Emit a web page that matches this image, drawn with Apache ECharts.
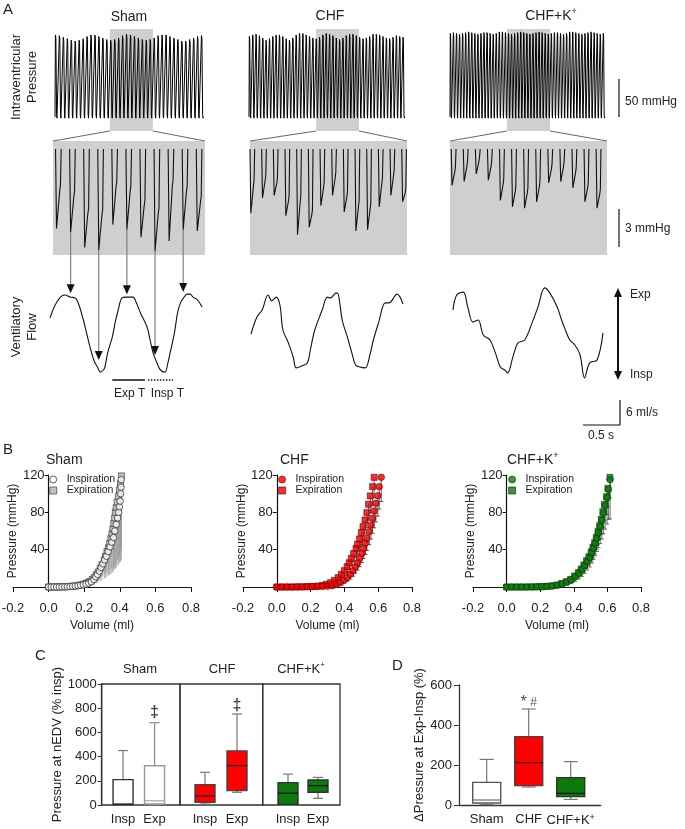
<!DOCTYPE html>
<html>
<head>
<meta charset="utf-8">
<script src="https://cdn.jsdelivr.net/npm/echarts/dist/echarts.min.js"></script>
<style>html,body{margin:0;padding:0;background:#fff}#main{width:685px;height:829px}</style>
</head>
<body>
<div id="main"></div>
<script>
// ---------- A: intraventricular pressure, peak of each beat (mmHg)
var topPeakSham = [108,107,105,103,101,100,101,103,106,108,108,106,104,102,101,102,104,107,109,108,106,104,102,101,102,104,107,108,108,106,104,102,100,100,102,104,106,107];
var topPeakChf = [106,108,109,107,104,101,103,106,108,108,106,103,101,104,108,110,110,108,106,104,103,105,108,110,109,107,104,102,104,107,109,109,107,105,103,104,106,109,109,108,106,104,103,105,107,106,105];
var topPeakChfK = [110,111,110,109,110,111,112,111,110,109,110,111,111,110,109,110,112,112,111,110,109,110,111,112,111,110,109,110,111,112,111,110,109,110,111,111,110,109,110,112,112,111,110,109,110,111,112,111,110,109,110];
// beats enlarged in the middle row (beat index window)
var zoomStart = [13.9, 20.1, 18.6];
var zoomEnd = [24.8, 32.9, 32.7];

// ---------- A: enlarged diastolic pressure (mmHg): trough and notch of each beat
var midTroughSham = [2.1,1.8,0.6,0.4,2.4,2.0,1.4,0.3,1.1,2.0,1.9];
var midKinkSham = [5.1,4.6,3.3,3.2,5.4,5.0,3.9,3.3,5.5,5.0,4.2];
var midTroughChf = [3.3,4.5,4.7,3.1,1.6,2.2,3.9,4.7,3.4,1.9,2.0,3.8,4.7,4.2];
var midKinkChf = [5.5,5.9,5.7,4.3,4.2,3.2,5.3,6.1,4.6,3.9,3.7,5.7,6.3,4.9];
var midTroughChfK = [5.5,5.8,6.4,5.9,4.3,3.8,3.7,4.2,5.7,5.8,5.3,4.2,3.7];
var midKinkChfK = [6.6,7.0,7.4,7.0,5.6,5.0,4.9,5.4,6.8,7.0,6.5,5.3,4.8];
var midPhase = [0.18, 0.0, 0.1];
var midSpan = [10.8, 13.45, 13.0];

// ---------- A: ventilatory flow (time s, flow ml/s)
var flowShamT = [0,.07,.14,.20,.27,.34,.39,.45,.50,.54,.59,.64,.68,.72,.74,.78,.84,.88,.92,.97,1.03,1.12,1.16,1.22,1.31,1.35,1.39,1.45,1.49,1.55,1.59,1.62,1.68,1.72,1.76,1.80,1.85,1.89,1.93,1.99,2.05];
var flowShamV = [4.1,7.2,9.1,9.6,9.1,8.9,7.2,3.6,0,-2.9,-6.0,-7.7,-8.9,-8.4,-7.7,-4.1,-0.5,3.1,6.0,8.9,9.1,9.1,7.9,5.3,1.9,-1.2,-4.3,-7.0,-8.4,-8.9,-6.7,-4.3,0.7,5.3,7.7,8.9,9.8,9.8,9.1,8.4,6.7];
var flowChfT = [0,.08,.15,.23,.28,.34,.39,.43,.50,.57,.61,.69,.76,.80,.86,.96,1.03,1.07,1.15,1.18,1.23,1.30,1.36,1.41,1.47,1.54,1.61,1.65,1.72,1.81,1.86,1.97,2.05];
var flowChfV = [0.2,4.3,6.0,9.6,8.2,9.1,7.2,1.2,-1.7,-5.3,-7.9,-7.4,-6.7,-3.6,1.2,6.0,9.1,8.9,10.1,9.6,3.6,-0.5,-4.3,-7.2,-7.7,-7.9,-4.3,-1.2,2.9,7.7,7.7,9.8,7.4];
var flowChfKT = [0,.05,.14,.20,.27,.34,.41,.50,.57,.64,.70,.74,.81,.88,.97,1.07,1.15,1.24,1.31,1.41,1.47,1.51,1.58,1.65,1.72,1.78,1.85,1.95,2.03];
var flowChfKV = [6.0,9.6,10.3,6.7,3.1,3.6,0,-1.2,-4.1,-7.7,-8.4,-9.1,-5.3,-1.9,-1.2,2.9,6.7,11.3,10.1,6.7,3.6,1.7,-1.2,-2.4,-4.8,-10.3,-6.7,-6.0,0.5];
// Sham beats linked to the flow curve, and flow at the arrow tips
var arrowBeatSham = [1, 3, 5, 7, 9];
var arrowFlowSham = [10.0, -6.0, 9.8, -4.8, 10.3];
var expTime = [0.84, 1.28];
var inspTime = [1.32, 1.66];

// ---------- B: pressure-volume relations (volume ml, pressure mmHg, SEM mmHg)
var shamInspVol = [0,0.015,0.03,0.045,0.06,0.075,0.09,0.105,0.12,0.135,0.15,0.165,0.18,0.195,0.21,0.225,0.24,0.255,0.265,0.275,0.285,0.295,0.305,0.315,0.325,0.335,0.345,0.355,0.365,0.372,0.38,0.388,0.394,0.398,0.402,0.405,0.407,0.408];
var shamInspP = [0,0,0,0,0,0.1,0.2,0.3,0.5,0.7,1,1.3,1.8,2.4,3,4,5.5,8,11,13.5,17,21,25,29,33,38,43,48,53,60,67,74,80,86,92,100,107,115];
var shamInspErr = [0,0,0,0,0,0,0,0,0,0,0.5,0.5,1,1,1.5,2,3,4,5,7,9,11,13,15,18,21,24,28,32,36,40,45,50,54,58,62,66,70];
var shamExpVol = [0,0.015,0.03,0.045,0.06,0.075,0.09,0.105,0.12,0.135,0.15,0.165,0.18,0.195,0.21,0.222,0.233,0.245,0.256,0.267,0.278,0.29,0.3,0.313,0.32,0.328,0.336,0.343,0.35,0.356,0.361,0.366,0.371,0.375,0.38,0.385,0.392,0.398,0.404,0.409];
var shamExpP = [0,0,0,0,0.1,0.2,0.3,0.4,0.6,0.9,1.2,1.7,2.3,3,4,5,6,8,10,13,16,20,24,29,33,38,42,47,52,57,62,68,74,80,85,91,97,104,111,119];
var shamExpErr = [0,0,0,0,0,0,0,0,0.5,0.5,1,1,1.5,2,3,4,5,6,7,9,11,14,17,20,23,27,30,34,38,42,46,50,55,60,64,68,73,78,84,90];

var chfInspVol = [0,0.03,0.06,0.09,0.12,0.15,0.18,0.21,0.24,0.27,0.30,0.328,0.353,0.376,0.396,0.416,0.435,0.451,0.465,0.478,0.49,0.504,0.514,0.524,0.533,0.547,0.557,0.567,0.576,0.586,0.598,0.606,0.618];
var chfInspP = [0,0,0,0,0.1,0.1,0.2,0.3,0.4,0.6,0.9,1.4,2.9,4.6,7.1,10,13.6,17.5,21.8,26,30.7,36.1,41.4,46.8,52.1,59.3,66.4,73.6,81.4,89.6,97.9,107.5,117.5];
var chfInspErr = [0,0,0,0,0,0,0,0,0,0,0.5,1,1.5,2,3,4,5,6,7,8,9,10,11,12,13,14,15,16,18,20,22,24,26];
var chfExpVol = [0,0.03,0.06,0.09,0.12,0.15,0.18,0.21,0.24,0.27,0.294,0.318,0.341,0.363,0.382,0.4,0.416,0.429,0.441,0.455,0.469,0.478,0.49,0.5,0.51,0.522,0.533,0.543,0.553,0.567,0.576];
var chfExpP = [0,0,0,0,0.1,0.2,0.4,0.6,1,1.8,2.9,4.6,7.1,10,13.6,17.5,21.8,26,30.7,36,41.4,46,51.4,58.2,64.6,71.8,79.6,88.6,97.6,107.5,117.5];
var chfExpErr = [0,0,0,0,0,0,0,0,0,0,1,1.5,2,3,4,5,6,7,8,9,10,11,12,13,14,15,16,17,18,20,22];

var chfkInspVol = [0,0.03,0.06,0.09,0.12,0.15,0.18,0.21,0.24,0.27,0.30,0.33,0.358,0.384,0.408,0.43,0.448,0.464,0.48,0.494,0.507,0.517,0.527,0.537,0.547,0.557,0.567,0.576,0.586,0.598,0.606,0.616];
var chfkInspP = [0,0,0,0,0,0.1,0.2,0.3,0.6,1,1.8,3.2,5.2,7.6,11,14.6,18.4,22.6,27.2,31.5,36.6,41.5,46.5,52,58,64.5,71.5,79,87,95.5,104.5,115];
var chfkInspErr = [0,0,0,0,0,0,0,0,0,0,1,2,3,4,5,6,7,8,9,10,11,12,13,14,16,18,20,22,25,28,32,42];
var chfkExpVol = [0,0.03,0.06,0.09,0.12,0.15,0.18,0.21,0.24,0.27,0.298,0.327,0.355,0.381,0.405,0.427,0.444,0.46,0.476,0.49,0.504,0.514,0.524,0.534,0.544,0.554,0.564,0.573,0.583,0.595,0.603,0.615];
var chfkExpP = [0,0,0,0,0,0.1,0.2,0.4,0.7,1.2,2.1,3.6,5.7,8.2,11.8,15.4,19.3,23.6,28.2,32.5,37.8,42.5,47.5,53.2,59.3,65.7,72.9,80.7,88.6,96.8,105.7,117.5];
var chfkExpErr = [0,0,0,0,0,0,0,0,0,0,1,1.5,2,3,4,5,6,7,8,9,10,11,12,13,14,15,16,17,18,19,20,22];

// ---------- C: pressure at nEDV (% insp), [min, Q1, median, Q3, max]
var phaseCats = ['Insp', 'Exp'];
var boxSham = [[0, 3, 8, 210, 450], [3, 8, 35, 325, 680]];
var boxChf = [[8, 22, 75, 168, 270], [105, 119, 326, 447, 752]];
var boxChfK = [[0, 5, 97, 185, 255], [55, 105, 160, 207, 228]];
var daggerAt = [null, 760];      // Sham Exp
var daggerAtChf = [null, 825];   // CHF Exp

// ---------- D: delta pressure at Exp-Insp (%)
var groupCats = ['Sham', 'CHF', 'CHF+K+'];
var boxDelta = [[2, 10, 25, 113, 228], [90, 97, 212, 342, 480], [28, 42, 58, 137, 217]];
var starAt = [null, 510, null];

// ---------------------------------------------------------------
var FONT = "'Liberation Sans', Arial, Helvetica, sans-serif";
var GRAY = '#cfcfcf';
var INK = '#222';
var MID_TOP = 8.37;

var grid = [], xAxis = [], yAxis = [], series = [];
function addGrid(g, xa, ya) {
  g.outerBoundsMode = 'none';
  grid.push(g);
  var i = grid.length - 1;
  xa.gridIndex = i; ya.gridIndex = i;
  xAxis.push(xa); yAxis.push(ya);
  return i;
}
function hid(min, max) { return {type: 'value', show: false, min: min, max: max}; }
function zip(a, b) { return a.map(function (v, i) { return [v, b[i]]; }); }

function topTrace(peaks) {
  var pts = [];
  peaks.forEach(function (pk, i) {
    pts.push([i, 0], [i + 0.1, pk], [i + 0.22, pk - 4], [i + 0.4, 3], [i + 0.5, -1.5], [i + 0.6, 0]);
  });
  return pts;
}
function midTrace(phase, troughs, kinks) {
  var pts = [];
  troughs.forEach(function (tr, i) {
    var t = phase + i;
    pts.push([t, MID_TOP], [t + 0.07, tr], [t + 0.3, kinks[i]], [t + 0.35, kinks[i] + 0.4], [t + 0.4, MID_TOP], [t + 0.41, '-']);
  });
  return pts;
}

// ---- panel A grids
var topPeaks = [topPeakSham, topPeakChf, topPeakChfK];
var topPos = [[55, 150], [249, 157], [450, 156]];
var TOPG = [], MIDG = [], FLOWG = [];
topPos.forEach(function (p, k) {
  var g = addGrid({left: p[0], width: p[1], top: 29, height: 102}, hid(0, topPeaks[k].length), hid(-18.4, 115.8));
  TOPG.push(g);
  series.push({type: 'line', xAxisIndex: g, yAxisIndex: g, data: [], z: 1, silent: true,
    markArea: {silent: true, itemStyle: {color: GRAY}, data: [[{xAxis: zoomStart[k]}, {xAxis: zoomEnd[k]}]]}});
  series.push({type: 'line', xAxisIndex: g, yAxisIndex: g, z: 3, symbol: 'none', silent: true,
    data: topTrace(topPeaks[k]), lineStyle: {color: '#000', width: 1}});
});

var midTroughs = [midTroughSham, midTroughChf, midTroughChfK];
var midKinks = [midKinkSham, midKinkChf, midKinkChfK];
var midPos = [[53, 152], [250, 157], [450, 157]];
midPos.forEach(function (p, k) {
  var g = addGrid({left: p[0], width: p[1], top: 141, height: 114, show: true, backgroundColor: GRAY, borderWidth: 0},
    hid(0, midSpan[k]), hid(0, 9.0));
  MIDG.push(g);
  series.push({type: 'line', xAxisIndex: g, yAxisIndex: g, symbol: 'none', silent: true, connectNulls: false,
    data: midTrace(midPhase[k], midTroughs[k], midKinks[k]), lineStyle: {color: '#111', width: 1.1}});
});

var flows = [zip(flowShamT, flowShamV), zip(flowChfT, flowChfV), zip(flowChfKT, flowChfKV)];
var flowPos = [[50, 152], [251, 152], [453, 150]];
flowPos.forEach(function (p, k) {
  var g = addGrid({left: p[0], width: p[1], top: 285, height: 95}, hid(0, flows[k][flows[k].length - 1][0]), hid(-10.8, 12));
  FLOWG.push(g);
  series.push({type: 'line', xAxisIndex: g, yAxisIndex: g, symbol: 'none', silent: true, smooth: 0.35,
    data: flows[k], lineStyle: {color: '#111', width: 1.1}});
});

// ---- panel B
function errRender(color, cap) {
  return function (params, api) {
    var e = api.value(2);
    if (!e) return null;
    var p0 = api.coord([api.value(0), api.value(1)]);
    var p1 = api.coord([api.value(0), api.value(1) - e]);
    var kids = [{type: 'line', shape: {x1: p0[0], y1: p0[1], x2: p1[0], y2: p1[1]}, style: {stroke: color, lineWidth: 0.8}}];
    if (cap) kids.push({type: 'line', shape: {x1: p1[0] - cap, y1: p1[1], x2: p1[0] + cap, y2: p1[1]}, style: {stroke: color, lineWidth: 0.8}});
    return {type: 'group', children: kids};
  };
}
var bSets = [
  {pos: [13, 178], gap: 30, legendLeft: 49.2,
   insp: [shamInspVol, shamInspP, shamInspErr], exp: [shamExpVol, shamExpP, shamExpErr],
   inspStyle: {color: '#ffffff', borderColor: '#333', borderWidth: 1},
   expStyle: {color: '#b3b3b3', borderColor: '#555', borderWidth: 1},
   err: ['#9a9a9a', 0]},
  {pos: [243, 169], gap: 28, legendLeft: 278.2,
   insp: [chfInspVol, chfInspP, chfInspErr], exp: [chfExpVol, chfExpP, chfExpErr],
   inspStyle: {color: '#ee0000', borderColor: '#6e0000', borderWidth: 0.8},
   expStyle: {color: '#ee0000', borderColor: '#6e0000', borderWidth: 0.8},
   err: ['#333', 2]},
  {pos: [473, 168], gap: 29, legendLeft: 508.2,
   insp: [chfkInspVol, chfkInspP, chfkInspErr], exp: [chfkExpVol, chfkExpP, chfkExpErr],
   inspStyle: {color: '#0c7a0c', borderColor: '#053805', borderWidth: 0.8},
   expStyle: {color: '#0c7a0c', borderColor: '#053805', borderWidth: 0.8},
   err: ['#444', 2]}
];
var legends = [];
bSets.forEach(function (s, k) {
  var g = addGrid({left: s.pos[0], width: s.pos[1], top: 475, height: 112},
    {type: 'value', min: -0.2, max: 0.8, interval: 0.2,
     name: 'Volume (ml)', nameLocation: 'middle', nameGap: 33, nameTextStyle: {fontSize: 12, color: INK},
     axisLine: {onZero: false, lineStyle: {color: '#111', width: 1.2}}, axisTick: {length: 5, lineStyle: {color: '#111'}},
     axisLabel: {fontSize: 13, color: INK, margin: 15, formatter: function (v) { return v.toFixed(1); }},
     splitLine: {show: false}},
    {type: 'value', min: 0, max: 120, interval: 40,
     // the pressure axis stands at volume 0, one fifth of the way along the volume axis
     offset: -s.pos[1] * 0.2,
     name: 'Pressure (mmHg)', nameLocation: 'middle', nameRotate: 90, nameGap: s.gap, nameTextStyle: {fontSize: 12, color: INK},
     axisLine: {onZero: false, lineStyle: {color: '#111', width: 1.2}}, axisTick: {length: 4, lineStyle: {color: '#111'}},
     axisLabel: {fontSize: 13, color: INK, margin: 4, formatter: function (v) { return v === 0 ? '' : v; }},
     splitLine: {show: false}});
  function errData(a) { return a[0].map(function (v, i) { return [v, a[1][i], a[2][i]]; }); }
  series.push({type: 'custom', xAxisIndex: g, yAxisIndex: g, silent: true, z: 2,
    renderItem: errRender(s.err[0], s.err[1]), encode: {x: 0, y: 1}, data: errData(s.exp)});
  series.push({type: 'custom', xAxisIndex: g, yAxisIndex: g, silent: true, z: 2,
    renderItem: errRender(s.err[0], s.err[1]), encode: {x: 0, y: 1}, data: errData(s.insp)});
  series.push({type: 'scatter', name: 'Expiration', xAxisIndex: g, yAxisIndex: g, symbol: 'rect', symbolSize: 6, z: 3,
    silent: true, data: zip(s.exp[0], s.exp[1]), itemStyle: s.expStyle});
  series.push({type: 'scatter', name: 'Inspiration', xAxisIndex: g, yAxisIndex: g, symbol: 'circle', symbolSize: 6.5, z: 4,
    silent: true, data: zip(s.insp[0], s.insp[1]), itemStyle: s.inspStyle});
  legends.push({left: s.legendLeft, top: 474, orient: 'vertical', padding: 0,
    itemWidth: 7, itemHeight: 7, itemGap: 0, selectedMode: false,
    textStyle: {fontSize: 10.5, color: INK, padding: [0, 0, 0, 5]},
    data: [{name: 'Inspiration', icon: 'circle', itemStyle: s.inspStyle},
           {name: 'Expiration', icon: 'rect', itemStyle: s.expStyle}]});
});

// ---- box-and-whisker drawing (C, D): data rows are [category index, min, Q1, median, Q3, max]
function boxRender(width, styles) {
  return function (params, api) {
    var i = api.value(0), st = styles[i];
    function c(d) { return api.coord([i, api.value(d)]); }
    var pMin = c(1), pQ1 = c(2), pMed = c(3), pQ3 = c(4), pMax = c(5);
    var x = pMed[0], h = width / 2, q = width / 4;
    var ls = {stroke: st.whisker, lineWidth: 1.2};
    return {type: 'group', children: [
      {type: 'line', shape: {x1: x, y1: pMax[1], x2: x, y2: pQ3[1]}, style: ls},
      {type: 'line', shape: {x1: x, y1: pQ1[1], x2: x, y2: pMin[1]}, style: ls},
      {type: 'line', shape: {x1: x - q, y1: pMax[1], x2: x + q, y2: pMax[1]}, style: ls},
      {type: 'line', shape: {x1: x - q, y1: pMin[1], x2: x + q, y2: pMin[1]}, style: ls},
      {type: 'rect', shape: {x: x - h, y: pQ3[1], width: width, height: pQ1[1] - pQ3[1]},
        style: {fill: st.fill, stroke: st.border, lineWidth: 1.4}},
      {type: 'line', shape: {x1: x - h, y1: pMed[1], x2: x + h, y2: pMed[1]}, style: {stroke: st.median, lineWidth: 1.3}}
    ]};
  };
}
function boxRows(boxes) { return boxes.map(function (b, i) { return [i].concat(b); }); }

// ---- panel C : frames, then data grids
var cFrames = [[101.7, 78.3], [180, 82.7], [262.7, 77.3]];
var cData = [[107.3, 63], [189, 64], [273, 60]];
var cBoxes = [boxSham, boxChf, boxChfK];
var cStyles = [
  [{fill: '#fff', border: '#333', median: '#222', whisker: '#777'}, {fill: '#fff', border: '#999', median: '#aaa', whisker: '#888'}],
  [{fill: '#ff0000', border: '#444', median: '#222', whisker: '#777'}, {fill: '#ff0000', border: '#444', median: '#222', whisker: '#777'}],
  [{fill: '#0b7a0b', border: '#333', median: '#111', whisker: '#777'}, {fill: '#0b7a0b', border: '#333', median: '#111', whisker: '#777'}]
];
var cDaggers = [daggerAt, daggerAtChf, [null, null]];
cFrames.forEach(function (f, k) {
  var yA = k === 0 ? {type: 'value', min: 0, max: 1000, interval: 200,
      name: 'Pressure at nEDV (% insp)', nameLocation: 'middle', nameRotate: 90, nameGap: 36,
      nameTextStyle: {fontSize: 13, color: INK},
      axisLine: {show: true, lineStyle: {color: '#333', width: 1.3}}, axisTick: {show: true, length: 4, lineStyle: {color: '#333'}},
      axisLabel: {fontSize: 13, color: INK, margin: 5, formatter: function (v) { return String(v); }}, splitLine: {show: false}} : hid(0, 1000);
  addGrid({left: f[0], width: f[1], top: 684, height: 121, show: true, borderColor: '#333', borderWidth: 1.3}, hid(0, 1), yA);
});
cData.forEach(function (d, k) {
  var g = addGrid({left: d[0], width: d[1], top: 684, height: 121},
    {type: 'category', data: phaseCats, axisLine: {show: false}, axisTick: {show: false},
     axisLabel: {fontSize: 13, color: INK, margin: 8, interval: 0, hideOverlap: false}},
    hid(0, 1000));
  series.push({type: 'custom', xAxisIndex: g, yAxisIndex: g, silent: true, z: 3,
    renderItem: boxRender(20, cStyles[k]), encode: {x: 0, y: [1, 2, 3, 4, 5]}, data: boxRows(cBoxes[k])});
  var dg = [];
  cDaggers[k].forEach(function (v, i) { if (v !== null) dg.push([i, v]); });
  if (dg.length) series.push({type: 'scatter', xAxisIndex: g, yAxisIndex: g, silent: true, z: 5, symbolSize: 2,
    itemStyle: {color: 'rgba(0,0,0,0)'}, data: dg,
    label: {show: true, position: 'inside', color: '#111', formatter: '\u2021', fontSize: 16, fontWeight: 'bold'}});
});

// ---- panel D
addGrid({left: 459, width: 141.7, top: 685, height: 120},
  {type: 'value', min: 0, max: 1, axisLine: {show: true, onZero: false, lineStyle: {color: '#333', width: 1.3}},
   axisTick: {show: false}, axisLabel: {show: false}, splitLine: {show: false}},
  {type: 'value', min: 0, max: 600, interval: 200,
   name: '\u0394Pressure at Exp-Insp (%)', nameLocation: 'middle', nameRotate: 90, nameGap: 31,
   nameTextStyle: {fontSize: 13, color: INK},
   axisLine: {show: true, lineStyle: {color: '#333', width: 1.3}}, axisTick: {show: true, length: 5, lineStyle: {color: '#333'}},
   axisLabel: {fontSize: 13, color: INK, margin: 7}, splitLine: {show: false}});
var dG = addGrid({left: 465.7, width: 126, top: 685, height: 120},
  {type: 'category', data: groupCats, axisLine: {show: false}, axisTick: {show: false},
   axisLabel: {fontSize: 13, color: INK, margin: 8, interval: 0, hideOverlap: false,
     formatter: function (v) { return v === 'CHF+K+' ? 'CHF+K{sup|+}' : v; },
     rich: {sup: {fontSize: 9, color: INK, verticalAlign: 'top', padding: [0, 0, 6, 0]}}}},
  hid(0, 600));
var dStyles = [{fill: '#fff', border: '#555', median: '#777', whisker: '#777'},
               {fill: '#ff0000', border: '#444', median: '#222', whisker: '#777'},
               {fill: '#0b7a0b', border: '#333', median: '#111', whisker: '#777'}];
series.push({type: 'custom', xAxisIndex: dG, yAxisIndex: dG, silent: true, z: 3,
  renderItem: boxRender(28, dStyles), encode: {x: 0, y: [1, 2, 3, 4, 5]}, data: boxRows(boxDelta)});
var st = [];
starAt.forEach(function (v, i) { if (v !== null) st.push([i, v]); });
series.push({type: 'scatter', xAxisIndex: dG, yAxisIndex: dG, silent: true, z: 5, symbolSize: 2,
  itemStyle: {color: 'rgba(0,0,0,0)'}, data: st,
  label: {show: true, position: 'inside', color: INK, formatter: '{a|*} #', fontSize: 12, rich: {a: {fontSize: 16, color: INK}}}});

var chart = echarts.init(document.getElementById('main'));
chart.setOption({
  animation: false,
  backgroundColor: '#fff',
  textStyle: {fontFamily: FONT, color: INK},
  grid: grid, xAxis: xAxis, yAxis: yAxis, series: series, legend: legends
});

// ---- annotations placed through the axes
function px(g, v) { return chart.convertToPixel({gridIndex: g}, v); }
var G = [];
function seg(a, b, color, w, dash) {
  G.push({type: 'line', silent: true, shape: {x1: a[0], y1: a[1], x2: b[0], y2: b[1]},
    style: {stroke: color, lineWidth: w, lineDash: dash || null}});
}
function head(x, y, dir) {
  G.push({type: 'polygon', silent: true, shape: {points: [[x, y], [x - 4, y - 9 * dir], [x + 4, y - 9 * dir]]}, style: {fill: '#111'}});
}
function txt(x, y, s, size, align, rot) {
  G.push({type: 'text', silent: true, x: x, y: y, rotation: rot || 0,
    style: {text: s, fontSize: size, fontFamily: FONT, fill: INK, textAlign: align || 'left', textVerticalAlign: 'middle', lineHeight: size + 3,
      rich: {sup: {fontSize: Math.round(size * 0.62), fontFamily: FONT, fill: INK, verticalAlign: 'top', padding: [0, 0, 7, 0]}}}});
}
// zoom connectors
[0, 1, 2].forEach(function (k) {
  var a = px(TOPG[k], [zoomStart[k], -18.4]), b = px(TOPG[k], [zoomEnd[k], -18.4]);
  var c = px(MIDG[k], [0, 9.0]), d = px(MIDG[k], [midSpan[k], 9.0]);
  seg(a, c, '#555', 0.9); seg(b, d, '#555', 0.9);
});
// Sham beat -> flow arrows
arrowBeatSham.forEach(function (idx, j) {
  var s = px(MIDG[0], [midPhase[0] + idx + 0.07, midTroughSham[idx]]);
  var e = px(FLOWG[0], [0, arrowFlowSham[j]]);
  seg([s[0], s[1]], [s[0], e[1] - 8], '#808080', 1.2);
  head(s[0], e[1], 1);
});
// Exp T / Insp T
var e0 = px(FLOWG[0], [expTime[0], -10.8]), e1 = px(FLOWG[0], [expTime[1], -10.8]);
var i0 = px(FLOWG[0], [inspTime[0], -10.8]), i1 = px(FLOWG[0], [inspTime[1], -10.8]);
seg(e0, e1, '#111', 1.4); seg(i0, i1, '#111', 1.4, [1.5, 1.5]);
txt((e0[0] + e1[0]) / 2 + 1, e0[1] + 14, 'Exp T', 12, 'center');
txt((i0[0] + i1[0]) / 2 + 7, i0[1] + 14, 'Insp T', 12, 'center');
// scale bars
var b0 = px(TOPG[2], [0, 0]), b50 = px(TOPG[2], [0, 50]);
seg([619, b0[1]], [619, b50[1]], '#111', 1.2);
txt(625, (b0[1] + b50[1]) / 2 + 4, '50 mmHg', 12);
var m0 = px(MIDG[2], [0, 0]), m3 = px(MIDG[2], [0, 3]);
seg([619, 247], [619, 247 - (m0[1] - m3[1])], '#111', 1.2);
txt(625, 229, '3 mmHg', 12);
var f0 = px(FLOWG[2], [0, 0]), f6 = px(FLOWG[2], [0, 6]), fT = px(FLOWG[2], [0.5, 0]);
seg([620, 425], [620, 425 - (f0[1] - f6[1])], '#111', 1.2);
seg([620, 425], [620 - (fT[0] - f0[0]), 425], '#111', 1.2);
txt(626, 413, '6 ml/s', 12);
txt(601, 436, '0.5 s', 12, 'center');
// Exp / Insp double arrow
seg([618, 296], [618, 372], '#111', 2);
head(618, 288, -1); head(618, 380, 1);
txt(630, 295, 'Exp', 12); txt(630, 375, 'Insp', 12);
// titles and panel letters
txt(3, 10, 'A', 15); txt(3, 450, 'B', 15); txt(35, 656, 'C', 15); txt(392, 666, 'D', 15);
txt(129, 17, 'Sham', 14, 'center'); txt(330, 16, 'CHF', 14, 'center'); txt(551, 16, 'CHF+K{sup|+}', 14, 'center');
txt(24, 77, 'Intraventricular\nPressure', 13, 'center', Math.PI / 2);
txt(24, 327, 'Ventilatory\nFlow', 13, 'center', Math.PI / 2);
txt(46, 460, 'Sham', 14); txt(280, 460, 'CHF', 14); txt(507, 460, 'CHF+K{sup|+}', 14);
txt(140, 669, 'Sham', 13, 'center'); txt(222, 669, 'CHF', 13, 'center'); txt(301, 669, 'CHF+K{sup|+}', 13, 'center');
chart.setOption({graphic: {elements: G}});
</script>
</body>
</html>
